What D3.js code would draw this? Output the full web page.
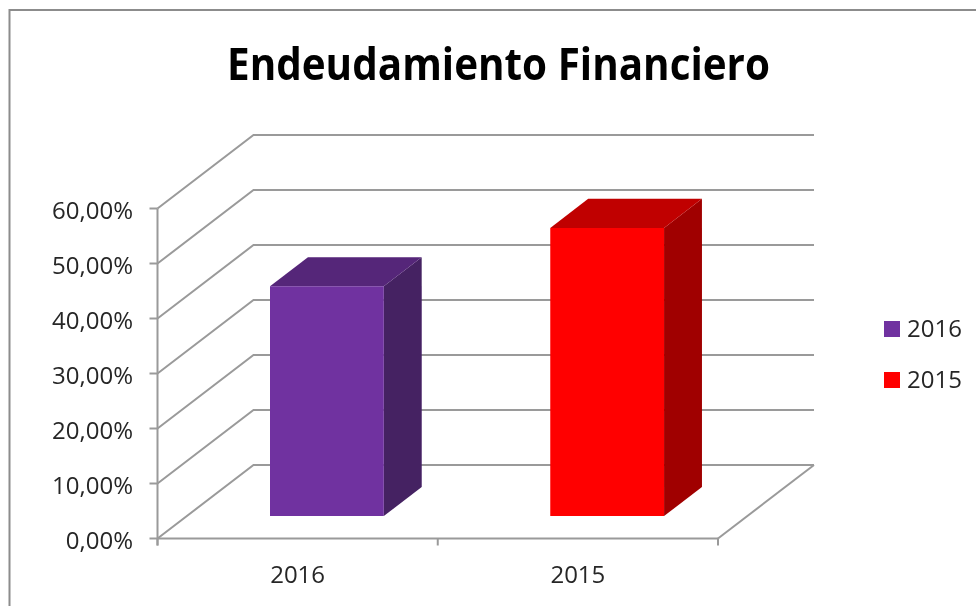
<!DOCTYPE html>
<html>
<head>
<meta charset="utf-8">
<script src="https://cdn.jsdelivr.net/npm/d3@7"></script>
<style>
html,body{margin:0;padding:0;background:#fff;overflow:hidden}
svg{display:block}
text{font-family:"Open Sans",sans-serif;fill:#262626}
</style>
</head>
<body>
<svg id="c" width="976" height="606"></svg>
<script>
const chartTitle = "Endeudamiento Financiero";
const categories = ["2016", "2015"];
const values = [41.8, 52.4];
const yTicks = [0, 10, 20, 30, 40, 50, 60];
const faceColors = ["#7030A0", "#FF0000"];
const topColors = ["#552579", "#C00000"];
const sideColors = ["#442062", "#A00000"];

const svg = d3.select("#c");
const defs = svg.append("defs");
defs.append("filter").attr("id", "soft").attr("x", 0).attr("y", 0).attr("width", 1).attr("height", 1)
  .attr("filterUnits", "userSpaceOnUse").attr("width", 976).attr("height", 606)
  .append("feGaussianBlur").attr("stdDeviation", 0.45);
const root = svg.append("g").attr("filter", "url(#soft)");
const plotLeft = 157.5, plotRight = 718, plotBottom = 538.5, plotTop = 208.5;
const depthX = 96, depthY = -73.5;
const x = d3.scaleBand().domain(categories).range([plotLeft, plotRight]).paddingInner(0.594).paddingOuter(0.297);
const y = d3.scaleLinear().domain([0, 60]).range([plotBottom, plotTop]);
const grey = "#9a9a9a";

// frame
root.append("path").attr("d", "M9.5,606V10H976").attr("fill", "none").attr("stroke", "#8c8c8c").attr("stroke-width", 2);

// title
root.append("text").attr("x", 498.5).attr("y", 80).attr("text-anchor", "middle")
  .attr("font-size", 44).attr("font-weight", 700)
  .attr("textLength", 543).attr("lengthAdjust", "spacingAndGlyphs")
  .style("fill", "#000").text(chartTitle);

// walls
const gl = root.append("g").attr("fill", "none").attr("stroke", grey).attr("stroke-width", 2);
yTicks.forEach(t => {
  gl.append("path").attr("d", d3.line()([
    [plotLeft, y(t)], [plotLeft + depthX, y(t) + depthY], [plotRight + depthX, y(t) + depthY]
  ]));
});
// floor
gl.append("path").attr("d", d3.line()([[plotRight, plotBottom], [plotRight + depthX, plotBottom + depthY]]));

// axes
const ax = root.append("g").attr("fill", "none").attr("stroke", grey).attr("stroke-width", 2);
ax.append("path").attr("d", d3.line()([[plotLeft, y(60)], [plotLeft, plotBottom + 7]]));
ax.append("path").attr("d", d3.line()([[plotLeft, plotBottom], [plotRight, plotBottom]]));
yTicks.forEach(t => ax.append("path").attr("d", d3.line()([[plotLeft - 8, y(t)], [plotLeft, y(t)]])));
[plotLeft, (plotLeft + plotRight) / 2, plotRight].forEach(px => ax.append("path").attr("d", d3.line()([[px, plotBottom], [px, plotBottom + 7]])));

// tick labels
root.append("g").selectAll("text").data(yTicks).join("text")
  .attr("x", 133).attr("y", d => y(d) + 10).attr("text-anchor", "end").attr("font-size", 24)
  .text(d => d3.format(".2f")(d).replace(".", ",") + "%");
root.append("g").selectAll("text").data(categories).join("text")
  .attr("x", d => x(d) + x.bandwidth() / 2).attr("y", 583).attr("text-anchor", "middle").attr("font-size", 24)
  .text(d => d);

// bars
const zFront = 0.305, zBack = 0.7;
const bars = root.append("g").selectAll("g").data(categories).join("g");
const pt = (cx, v, z) => [cx + depthX * z, y(v) + depthY * z];
bars.each(function (c, i) {
  const g = d3.select(this), l = x(c), r = l + x.bandwidth(), v = values[i];
  const line = d3.line();
  g.append("path").attr("fill", sideColors[i]).attr("d", line([pt(r, 0, zFront), pt(r, v, zFront), pt(r, v, zBack), pt(r, 0, zBack)]) + "Z");
  g.append("path").attr("fill", topColors[i]).attr("d", line([pt(l, v, zFront), pt(r, v, zFront), pt(r, v, zBack), pt(l, v, zBack)]) + "Z");
  g.append("path").attr("fill", faceColors[i]).attr("d", line([pt(l, 0, zFront), pt(r, 0, zFront), pt(r, v, zFront), pt(l, v, zFront)]) + "Z");
});

// legend
const lg = root.append("g").selectAll("g").data(categories).join("g")
  .attr("transform", (d, i) => `translate(884,${321 + i * 51})`);
lg.append("rect").attr("width", 16).attr("height", 16).attr("fill", (d, i) => faceColors[i]);
lg.append("text").attr("x", 23).attr("y", 16).attr("font-size", 24).text(d => d);
</script>
</body>
</html>
